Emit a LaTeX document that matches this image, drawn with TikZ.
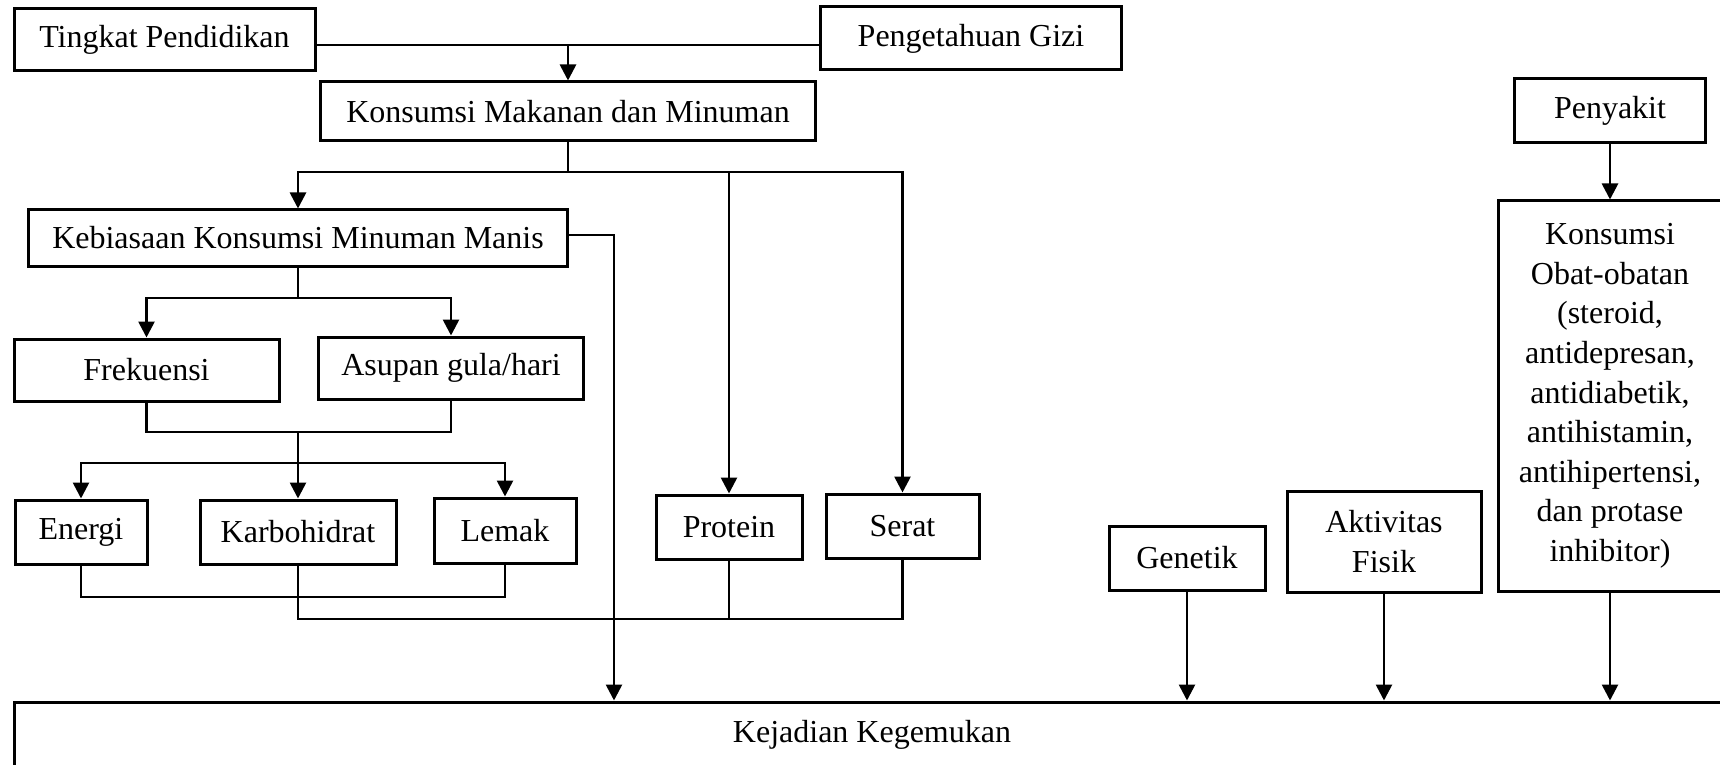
\documentclass[tikz,border=0pt]{standalone}
\usepackage{fontspec}
\setmainfont{Liberation Serif}
\usepackage{tikz}
\usetikzlibrary{arrows.meta,positioning,calc}
\tikzset{every node/.append style={align=center}}

\begin{document}
\begin{tikzpicture}[
    x=0.5pt, y=-0.5pt,
    box/.style={draw, line width=1.5pt, inner sep=0pt, font=\fontsize{16}{19.8}\selectfont},
    link/.style={line width=1.35pt},
    arrow/.style={-{Triangle[length=8pt,width=8pt]}, line width=1.35pt}
]
    \clip (0,0) rectangle (1720,765);

    % Boxes
    \node[box, minimum width=150.5pt, minimum height=31pt] (tingkat) at (164.5,40) {Tingkat Pendidikan};
    \node[box, minimum width=150.5pt, minimum height=31.5pt] (pengetahuan) at (971,38.5) {Pengetahuan Gizi};
    \node[box, minimum width=247.5pt, minimum height=29.5pt] (konsumsi) at (568,111.5) {Konsumsi Makanan dan Minuman};
    \node[box, minimum width=269.5pt, minimum height=28pt] (kebiasaan) at (298,238) {Kebiasaan Konsumsi Minuman Manis};
    \node[box, minimum width=132.5pt, minimum height=31pt] (frekuensi) at (146.5,370) {Frekuensi};
    \node[box, minimum width=132.5pt, minimum height=31pt] (asupan) at (451,368) {Asupan gula/hari};
    \node[box, minimum width=66pt, minimum height=32pt] (energi) at (81,532) {Energi};
    \node[box, minimum width=98pt, minimum height=32pt] (karbohidrat) at (298,532) {Karbohidrat};
    \node[box, minimum width=71pt, minimum height=32.5pt] (lemak) at (505,530.5) {Lemak};
    \node[box, minimum width=73pt, minimum height=32pt] (protein) at (729,527) {Protein};
    \node[box, minimum width=76.5pt, minimum height=32pt] (serat) at (902.5,526) {Serat};
    \node[box, minimum width=78pt, minimum height=32pt] (genetik) at (1187,558) {Genetik};
    \node[box, minimum width=97pt, minimum height=50.5pt] (aktivitas) at (1384,541.5) {Aktivitas\\Fisik};
    \node[box, minimum width=95.5pt, minimum height=32pt] (penyakit) at (1610,111) {Penyakit};
    \node[box, minimum width=112pt, minimum height=195pt] (obat) at (1610,396) {Konsumsi\\Obat-obatan\\(steroid,\\antidepresan,\\antidiabetik,\\antihistamin,\\antihipertensi,\\dan protase\\inhibitor)};
    \node[box, minimum width=858pt, minimum height=33pt] (kejadian) at (872,735) {Kejadian Kegemukan};

    % Junctions
    \coordinate (joinTop) at (568,45);
    \coordinate (splitA) at (568,172);
    \coordinate (splitB) at (298,298);
    \coordinate (mergeA) at (298,432);
    \coordinate (splitC) at (298,463);
    \coordinate (mergeB) at (298,597);
    \coordinate (mergeC) at (620,619);
    \coordinate (dropK) at (614,235);

    % Arrows
    \draw[link] (tingkat.east |- joinTop) -- (pengetahuan.west |- joinTop);
    \draw[arrow] (joinTop) -- (konsumsi);
    \draw[link] (konsumsi) -- (splitA);
    \draw[arrow] (splitA) -| (kebiasaan);
    \draw[arrow] (splitA) -| (protein);
    \draw[arrow] (splitA) -| (serat);
    \draw[link] (kebiasaan) -- (splitB);
    \draw[arrow] (splitB) -| (frekuensi);
    \draw[arrow] (splitB) -| (asupan);
    \draw[link] (frekuensi) |- (mergeA) -| (asupan);
    \draw[link] (mergeA) -- (splitC);
    \draw[arrow] (splitC) -| (energi);
    \draw[arrow] (splitC) -- (karbohidrat);
    \draw[arrow] (splitC) -| (lemak);
    \draw[link] (energi) |- (mergeB) -| (lemak);
    \draw[link] (karbohidrat) |- (mergeC) -| (serat);
    \draw[link] (protein) -- (protein |- mergeC);
    \draw[arrow] (kebiasaan.east |- dropK) -- (dropK) -- (dropK |- kejadian.north);
    \draw[arrow] (penyakit) -- (obat);
    \draw[arrow] (genetik) -- (genetik |- kejadian.north);
    \draw[arrow] (aktivitas) -- (aktivitas |- kejadian.north);
    \draw[arrow] (obat) -- (obat |- kejadian.north);

\end{tikzpicture}
\end{document}
